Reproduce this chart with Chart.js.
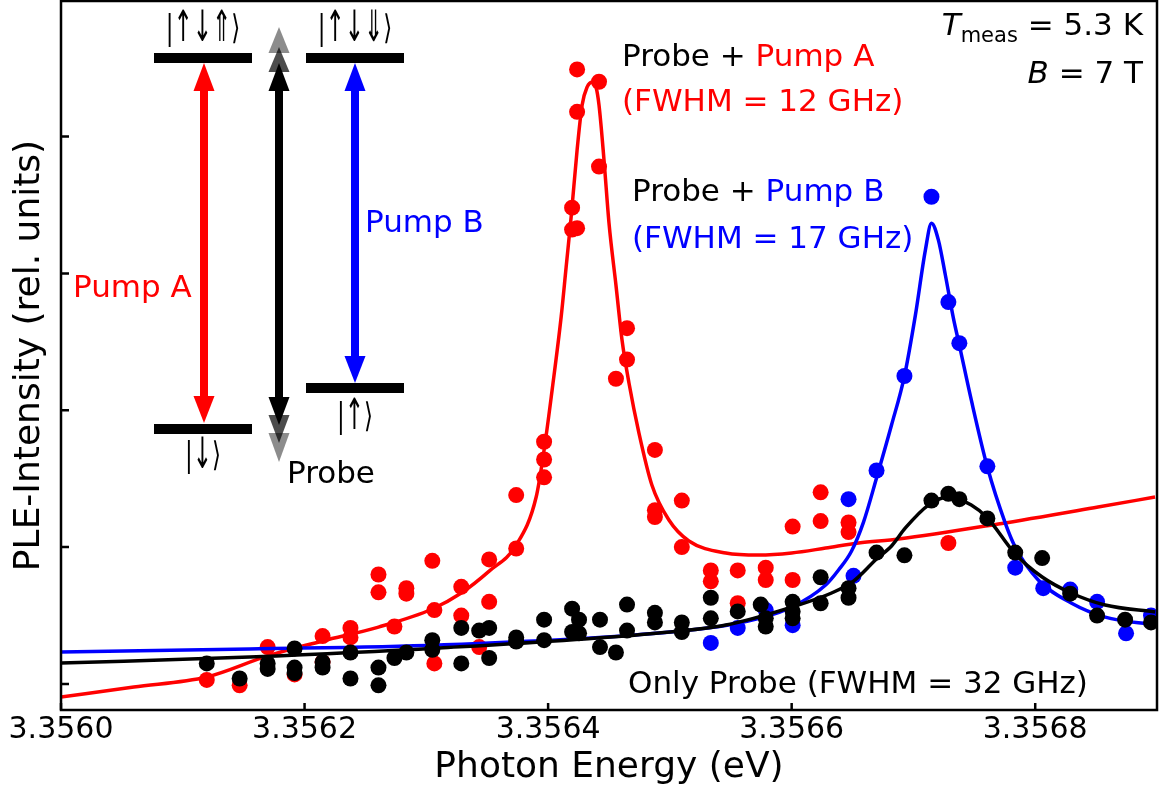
<!DOCTYPE html>
<html>
<head>
<meta charset="utf-8">
<script src="https://cdn.jsdelivr.net/npm/chart.js@4.4.1/dist/chart.umd.min.js"></script>
<style>
  html, body { margin: 0; padding: 0; background: #fff; }
  #wrap { width: 1159px; height: 792px; position: relative; }
</style>
</head>
<body>
<div id="wrap"><canvas id="myChart"></canvas></div>
<script>
const xTicks = [3.3560, 3.3562, 3.3564, 3.3566, 3.3568]
const yTicks = [0, 1, 2, 3, 4]

// measured points: probe + pump A
const pumpAEnergy = [
  3.3561197, 3.3561467, 3.3561697, 3.3561918, 3.3562148, 3.3562148, 3.3562377, 3.3562377,
  3.3562607, 3.3562607, 3.3562836, 3.3562836, 3.3562738, 3.3563049, 3.3563066, 3.3563066,
  3.3563287, 3.3563287, 3.3563434, 3.3563516, 3.3563516, 3.3563738, 3.3563738, 3.3563967,
  3.3563967, 3.3563967, 3.3564197, 3.3564197, 3.3564238, 3.3564238, 3.3564238, 3.3564418,
  3.3564418, 3.3564648, 3.3564648, 3.3564557, 3.3564877, 3.3564877, 3.3564877, 3.3565098,
  3.3565098, 3.3565336, 3.3565336, 3.3565557, 3.3565557, 3.3565787, 3.3565787, 3.3566008,
  3.3566008, 3.3566238, 3.3566238, 3.3566467, 3.3566467, 3.3567287
]
const pumpAIntensity = [
  0.03, -0.01, 0.27, 0.07, 0.35, 0.16, 0.41, 0.34,
  0.80, 0.67, 0.70, 0.66, 0.42, 0.90, 0.54, 0.15,
  0.71, 0.50, 0.27, 0.91, 0.60, 1.38, 0.99, 1.77,
  1.64, 1.51, 3.48, 3.32, 3.33, 4.18, 4.49, 4.40,
  3.78, 2.60, 2.37, 2.23, 1.71, 1.27, 1.22, 1.34,
  1.00, 0.83, 0.75, 0.83, 0.59, 0.85, 0.76, 1.15,
  0.76, 1.40, 1.19, 1.18, 1.11, 1.03
]

// measured points: probe + pump B
const pumpBEnergy = [
  3.3565336, 3.3565557, 3.3565787, 3.3566008, 3.3566467, 3.3566508, 3.3566697, 3.3566926,
  3.3567148, 3.3567287, 3.3567377, 3.3567607, 3.3567836, 3.3568066, 3.3568287, 3.3568508,
  3.3568746, 3.3568951
]
const pumpBIntensity = [
  0.30, 0.41, 0.54, 0.43, 1.35, 0.79, 1.56, 2.25,
  3.56, 2.79, 2.49, 1.59, 0.85, 0.70, 0.69, 0.60,
  0.37, 0.50
]

// measured points: only probe
const probeEnergy = [
  3.3561197, 3.3561467, 3.3561697, 3.3561697, 3.3561918, 3.3561918, 3.3561918, 3.3562148,
  3.3562148, 3.3562377, 3.3562377, 3.3562607, 3.3562607, 3.3562738, 3.3562836, 3.3563049,
  3.3563049, 3.3563287, 3.3563287, 3.3563434, 3.3563516, 3.3563516, 3.3563738, 3.3563738,
  3.3563967, 3.3563967, 3.3564197, 3.3564197, 3.3564254, 3.3564254, 3.3564426, 3.3564426,
  3.3564557, 3.3564648, 3.3564648, 3.3564877, 3.3564877, 3.3565098, 3.3565098, 3.3565336,
  3.3565336, 3.3565557, 3.3565746, 3.3565787, 3.3565787, 3.3566008, 3.3566008, 3.3566008,
  3.3566238, 3.3566238, 3.3566467, 3.3566467, 3.3566697, 3.3566926, 3.3567148, 3.3567287,
  3.3567377, 3.3567607, 3.3567836, 3.3568057, 3.3568287, 3.3568508, 3.3568738, 3.3568951
]
const probeIntensity = [
  0.15, 0.04, 0.15, 0.11, 0.26, 0.12, 0.08, 0.16,
  0.12, 0.23, 0.04, 0.12, -0.01, 0.19, 0.23, 0.32,
  0.25, 0.41, 0.15, 0.39, 0.41, 0.19, 0.34, 0.31,
  0.47, 0.32, 0.55, 0.38, 0.47, 0.37, 0.47, 0.27,
  0.23, 0.58, 0.39, 0.52, 0.45, 0.45, 0.38, 0.63,
  0.48, 0.53, 0.58, 0.48, 0.42, 0.60, 0.53, 0.48,
  0.78, 0.59, 0.70, 0.63, 0.96, 0.94, 1.34, 1.39,
  1.35, 1.21, 0.96, 0.92, 0.66, 0.50, 0.47, 0.45
]

// fit curves
const pumpAFitEnergy = [
  3.3560000, 3.3560598, 3.3561197, 3.3561697, 3.3562148, 3.3562607, 3.3563049, 3.3563287,
  3.3563516, 3.3563738, 3.3563902, 3.3563967, 3.3564033, 3.3564107, 3.3564148, 3.3564189,
  3.3564238, 3.3564279, 3.3564320, 3.3564361, 3.3564393, 3.3564418, 3.3564459, 3.3564500,
  3.3564557, 3.3564607, 3.3564664, 3.3564746, 3.3564852, 3.3564992, 3.3565156, 3.3565459,
  3.3565730, 3.3566000, 3.3566279, 3.3566549, 3.3566877, 3.3567697, 3.3568516, 3.3568984
]
const pumpAFitIntensity = [
  -0.095, -0.022, 0.051, 0.205, 0.314, 0.416, 0.548, 0.665,
  0.825, 1.015, 1.366, 1.709, 2.148, 2.681, 3.046, 3.411,
  3.901, 4.229, 4.361, 4.397, 4.361, 4.229, 3.828, 3.367,
  2.915, 2.513, 2.199, 1.833, 1.454, 1.198, 1.045, 0.957,
  0.942, 0.957, 0.993, 1.030, 1.059, 1.169, 1.293, 1.366
]

const pumpBFitEnergy = [
  3.3560000, 3.3561549, 3.3563107, 3.3564910, 3.3565566, 3.3566000, 3.3566279, 3.3566385,
  3.3566492, 3.3566590, 3.3566697, 3.3566820, 3.3566926, 3.3567016, 3.3567098, 3.3567148,
  3.3567205, 3.3567262, 3.3567328, 3.3567377, 3.3567475, 3.3567607, 3.3567754, 3.3567836,
  3.3568025, 3.3568295, 3.3568574, 3.3568984
]
const pumpBFitIntensity = [
  0.234, 0.256, 0.285, 0.373, 0.446, 0.562, 0.723, 0.833,
  0.972, 1.183, 1.505, 1.892, 2.250, 2.695, 3.170, 3.367,
  3.243, 2.988, 2.673, 2.476, 2.075, 1.585, 1.176, 1.001,
  0.760, 0.592, 0.489, 0.431
]

const probeFitEnergy = [
  3.3560000, 3.3561549, 3.3563107, 3.3564910, 3.3565459, 3.3566000, 3.3566328, 3.3566508,
  3.3566697, 3.3566820, 3.3566934, 3.3567123, 3.3567287, 3.3567475, 3.3567607, 3.3567836,
  3.3568057, 3.3568295, 3.3568574, 3.3568984
]
const probeFitIntensity = [
  0.153, 0.197, 0.263, 0.373, 0.431, 0.562, 0.665, 0.752,
  0.913, 1.008, 1.140, 1.307, 1.366, 1.307, 1.213, 0.950,
  0.782, 0.665, 0.577, 0.526
]

const FONT = '"DejaVu Sans", sans-serif'
const RED = '#ff0000'
const BLUE = '#0000ff'
const BLACK = '#000000'

const pts = (xs, ys) => xs.map((x, i) => ({ x: x, y: ys[i] }))

const dots = (label, xs, ys, color, order) => ({
  label: label,
  data: pts(xs, ys),
  showLine: false,
  pointRadius: 8,
  pointHoverRadius: 8,
  pointBorderWidth: 0,
  pointBackgroundColor: color,
  backgroundColor: color,
  borderColor: color,
  clip: 0,
  order: order
})

const fit = (label, xs, ys, color, order) => ({
  label: label,
  data: pts(xs, ys),
  showLine: true,
  pointRadius: 0,
  pointHoverRadius: 0,
  borderWidth: 3.5,
  borderColor: color,
  cubicInterpolationMode: 'monotone',
  clip: 0,
  order: order
})

function head(ctx, x, tip, base, color) {
  ctx.fillStyle = color
  ctx.beginPath()
  ctx.moveTo(x, tip)
  ctx.lineTo(x - 10.5, base)
  ctx.lineTo(x + 10.5, base)
  ctx.closePath()
  ctx.fill()
}

function shaft(ctx, x, y1, y2, color) {
  ctx.fillStyle = color
  ctx.fillRect(x - 4, y1, 8, y2 - y1)
}

// state labels: narrow glyphs, the arrows stretched to the height of the bar
function ket(ctx, text, cx, cy) {
  const chars = Array.from(text)
  const sx = 0.72
  ctx.save()
  ctx.font = '32px ' + FONT
  ctx.fillStyle = BLACK
  ctx.textAlign = 'left'
  ctx.textBaseline = 'middle'
  const widths = chars.map(c => ctx.measureText(c).width * sx)
  let x = cx - widths.reduce((a, b) => a + b, 0) / 2
  chars.forEach((c, i) => {
    const sy = (c === '|' || c === '⟩') ? 1.05 : 1.35
    ctx.save()
    ctx.translate(x, cy)
    ctx.scale(sx, sy)
    ctx.fillText(c, 0, 0)
    ctx.restore()
    x += widths[i]
  })
  ctx.restore()
}

// draws pieces of text one after another, starting at x (or ending at x if right aligned)
function runs(ctx, parts, x, y, alignRight) {
  let w = 0
  parts.forEach(p => { ctx.font = p.font; w += ctx.measureText(p.text).width })
  let cx = alignRight ? x - w : x
  ctx.textAlign = 'left'
  ctx.textBaseline = 'alphabetic'
  parts.forEach(p => {
    ctx.font = p.font
    ctx.fillStyle = p.color
    ctx.fillText(p.text, cx, y + (p.dy || 0))
    cx += ctx.measureText(p.text).width
  })
}

const framePlugin = {
  id: 'frame',
  afterDraw(chart) {
    const { ctx, chartArea: a, scales } = chart
    ctx.save()
    ctx.strokeStyle = '#000'
    ctx.lineWidth = 2.5
    ctx.strokeRect(a.left, a.top, a.right - a.left, a.bottom - a.top)
    ctx.beginPath()
    xTicks.forEach(v => {
      const px = scales.x.getPixelForValue(v)
      ctx.moveTo(px, a.bottom)
      ctx.lineTo(px, a.bottom - 7)
    })
    yTicks.forEach(v => {
      const py = scales.y.getPixelForValue(v)
      ctx.moveTo(a.left, py)
      ctx.lineTo(a.left + 8, py)
    })
    ctx.stroke()
    ctx.restore()
  }
}

const insetPlugin = {
  id: 'inset',
  afterDraw(chart) {
    const ctx = chart.ctx
    ctx.save()
    // energy levels
    ctx.fillStyle = BLACK
    ctx.fillRect(154, 53, 98, 10)
    ctx.fillRect(154, 424, 98, 10)
    ctx.fillRect(306, 53, 98, 10)
    ctx.fillRect(306, 383, 98, 10)

    // pump A
    shaft(ctx, 204, 90, 398, RED)
    head(ctx, 204, 63, 91, RED)
    head(ctx, 204, 423, 396, RED)

    // probe, with the faded heads
    head(ctx, 279, 27, 53, 'rgba(0,0,0,0.45)')
    head(ctx, 279, 47, 72, 'rgba(0,0,0,0.7)')
    head(ctx, 279, 462, 433, 'rgba(0,0,0,0.45)')
    head(ctx, 279, 443, 415, 'rgba(0,0,0,0.7)')
    shaft(ctx, 279, 90, 398, BLACK)
    head(ctx, 279, 63, 91, BLACK)
    head(ctx, 279, 425, 397, BLACK)

    // pump B
    shaft(ctx, 355, 90, 357, BLUE)
    head(ctx, 355, 63, 91, BLUE)
    head(ctx, 355, 383, 356, BLUE)

    ket(ctx, '|↑↓⇑⟩', 203, 30)
    ket(ctx, '|↑↓⇓⟩', 355, 30)
    ket(ctx, '|↓⟩', 203, 457)
    ket(ctx, '|↑⟩', 355, 418)

    ctx.textBaseline = 'alphabetic'
    ctx.textAlign = 'left'
    ctx.font = '31px ' + FONT
    ctx.fillStyle = RED
    ctx.fillText('Pump A', 73, 297)
    ctx.fillStyle = BLUE
    ctx.fillText('Pump B', 365, 232)
    ctx.fillStyle = BLACK
    ctx.fillText('Probe', 287, 483)

    // annotations
    const f = '31px ' + FONT
    runs(ctx, [{ text: 'Probe + ', font: f, color: BLACK }, { text: 'Pump A', font: f, color: RED }], 622, 66)
    runs(ctx, [{ text: '(FWHM = 12 GHz)', font: f, color: RED }], 622, 111)
    runs(ctx, [{ text: 'Probe + ', font: f, color: BLACK }, { text: 'Pump B', font: f, color: BLUE }], 632, 201)
    runs(ctx, [{ text: '(FWHM = 17 GHz)', font: f, color: BLUE }], 632, 248)
    runs(ctx, [{ text: 'Only Probe (FWHM = 32 GHz)', font: f, color: BLACK }], 628, 693)

    runs(ctx, [
      { text: 'T', font: 'italic 31px ' + FONT, color: BLACK },
      { text: 'meas', font: '21px ' + FONT, color: BLACK, dy: 7 },
      { text: ' = 5.3 K', font: f, color: BLACK }
    ], 1143, 35, true)
    runs(ctx, [
      { text: 'B', font: 'italic 31px ' + FONT, color: BLACK },
      { text: ' = 7 T', font: f, color: BLACK }
    ], 1143, 83, true)
    ctx.restore()
  }
}

const ctx = document.getElementById('myChart')
// eslint-disable-next-line no-unused-vars
const myChart = new Chart(ctx, {
  type: 'scatter',
  data: {
    datasets: [
      fit('Only Probe fit', probeFitEnergy, probeFitIntensity, BLACK, 0),
      dots('Only Probe', probeEnergy, probeIntensity, BLACK, 1),
      fit('Probe + Pump B fit', pumpBFitEnergy, pumpBFitIntensity, BLUE, 2),
      dots('Probe + Pump B', pumpBEnergy, pumpBIntensity, BLUE, 3),
      fit('Probe + Pump A fit', pumpAFitEnergy, pumpAFitIntensity, RED, 4),
      dots('Probe + Pump A', pumpAEnergy, pumpAIntensity, RED, 5)
    ]
  },
  options: {
    responsive: true,
    maintainAspectRatio: false,
    animation: false,
    layout: { autoPadding: false, padding: { top: 1, right: 2, left: 0, bottom: 0 } },
    plugins: {
      legend: { display: false },
      tooltip: { enabled: false }
    },
    scales: {
      x: {
        type: 'linear',
        min: 3.3560,
        max: 3.3569,
        grid: { display: false, drawTicks: false },
        border: { display: false },
        afterBuildTicks: s => { s.ticks = xTicks.map(v => ({ value: v })) },
        afterFit: s => { s.height = 82 },
        ticks: {
          color: BLACK,
          font: { family: FONT, size: 30 },
          padding: 2,
          maxRotation: 0,
          autoSkip: false,
          callback: v => v.toFixed(4)
        },
        title: {
          display: true,
          text: 'Photon Energy (eV)',
          color: BLACK,
          font: { family: FONT, size: 36 },
          padding: { top: 0, bottom: 3 }
        }
      },
      y: {
        min: -0.19,
        max: 4.99,
        grid: { display: false, drawTicks: false },
        border: { display: false },
        ticks: { display: false },
        afterFit: s => {
          s.width = 61
          s.paddingTop = 0
          s.paddingBottom = 0
        },
        title: {
          display: true,
          text: 'PLE-Intensity (rel. units)',
          color: BLACK,
          font: { family: FONT, size: 36 },
          padding: { top: 8, bottom: 0 }
        }
      }
    }
  },
  plugins: [framePlugin, insetPlugin]
})
</script>
</body>
</html>
